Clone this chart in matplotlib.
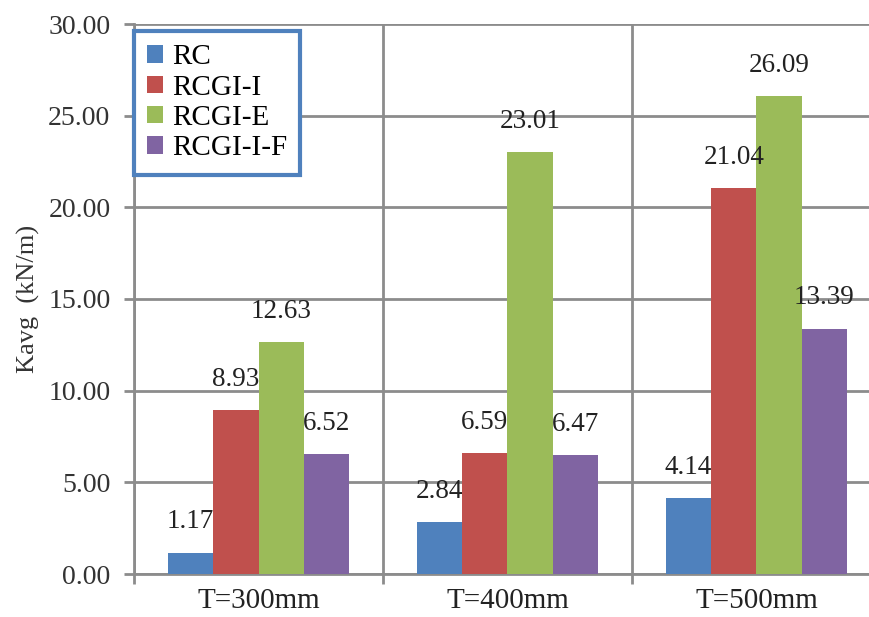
import numpy as np
import matplotlib.pyplot as plt

plt.rcParams['font.family'] = ['Liberation Serif', 'DejaVu Serif']

groups = ['T=300mm', 'T=400mm', 'T=500mm']
series = ['RC', 'RCGI-I', 'RCGI-E', 'RCGI-I-F']
rc = [1.17, 2.84, 4.14]
rcgi_i = [8.93, 6.59, 21.04]
rcgi_e = [12.63, 23.01, 26.09]
rcgi_i_f = [6.52, 6.47, 13.39]
colors = ['#4F81BD', '#C0504D', '#9BBB59', '#8064A2']

values = [rc, rcgi_i, rcgi_e, rcgi_i_f]
grid_col = '#8C8C8C'

fig = plt.figure(figsize=(8.7, 6.17), dpi=100)
# the last category runs a bit past the right edge of the figure
ax = fig.add_axes([134 / 870, 43 / 617, 747 / 870, 550 / 617])

x = np.arange(len(groups))
w = 0.182
for i, (name, vals, c) in enumerate(zip(series, values, colors)):
    pos = x + (i - 1.5) * w
    ax.bar(pos, vals, w, color=c, label=name, zorder=3)
    for px, v in zip(pos, vals):
        ax.annotate(f'{v:.2f}', (px, v), xytext=(0, 22), textcoords='offset points',
                    ha='center', va='center', fontsize=19.5, color='#222222', zorder=4)

ax.set_xlim(-0.5, 2.5)
ax.set_ylim(0, 30)
ax.set_yticks(np.arange(0, 31, 5))
ax.set_yticklabels([f'{v:.2f}' for v in np.arange(0, 31, 5)], fontsize=20, color='#333333')
ax.set_xticks(x)
ax.set_xticklabels(groups, fontsize=21, color='#222222')
ax.set_xticks([-0.5, 0.5, 1.5, 2.5], minor=True)

ax.tick_params(axis='x', which='major', length=0, pad=10)
ax.tick_params(axis='x', which='minor', length=7, width=2, color=grid_col, direction='out')
ax.tick_params(axis='y', length=7, width=2, color=grid_col, direction='out', pad=10)

ax.grid(axis='y', which='major', color=grid_col, linewidth=2, zorder=0)
ax.grid(axis='x', which='minor', color=grid_col, linewidth=2, zorder=0)
ax.set_axisbelow(True)

for s in ['top', 'right']:
    ax.spines[s].set_visible(False)
for s in ['left', 'bottom']:
    ax.spines[s].set_color(grid_col)
    ax.spines[s].set_linewidth(2)

ax.set_ylabel('Kavg  (kN/m)', fontsize=19, color='#333333', labelpad=6)

leg = ax.legend(loc='upper left', bbox_to_anchor=(0.0, 0.987), borderaxespad=0,
                fontsize=21, handlelength=0.55, handleheight=0.55, handletextpad=0.3,
                labelspacing=0.15, borderpad=0.45, fancybox=False, framealpha=1)
leg.get_frame().set_edgecolor('#4F81BD')
leg.get_frame().set_linewidth(3)
leg.set_zorder(5)

fig.savefig('out.png', dpi=100)
